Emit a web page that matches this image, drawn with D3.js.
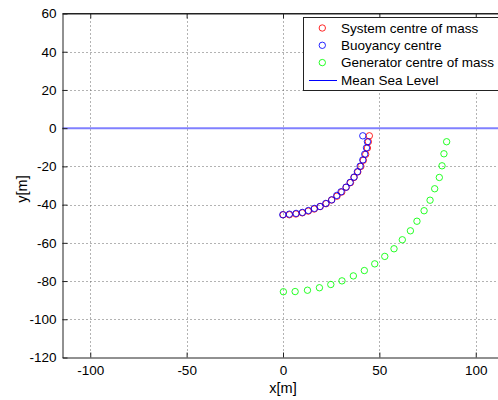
<!DOCTYPE html>
<html><head><meta charset="utf-8">
<script src="https://cdn.jsdelivr.net/npm/d3@7"></script>
<style>body{margin:0;background:#fff}svg{display:block}text{font-family:"Liberation Sans",Arial,sans-serif}</style>
</head><body>
<svg id="c" width="498" height="400"></svg>
<script>
// System centre of mass (red)
const sysX = [0.1, 3.3, 6.7, 10.0, 13.1, 16.2, 19.3, 22.4, 25.2, 28.0, 30.5, 32.8, 35.0, 36.8, 38.8, 40.4, 41.7, 42.9, 43.8, 44.3, 44.8];
const sysY = [-45.3, -45.3, -44.9, -44.3, -43.4, -42.3, -41.0, -39.5, -37.6, -35.6, -33.4, -30.9, -28.5, -25.8, -22.9, -20.0, -16.8, -13.7, -10.4, -7.1, -4.0];
// Buoyancy centre (blue)
const buoX = [-0.1, 3.3, 6.8, 10.1, 13.2, 16.3, 19.2, 22.2, 25.3, 27.9, 30.1, 32.7, 34.8, 36.9, 38.6, 40.0, 41.4, 42.4, 43.3, 43.8, 41.4];
const buoY = [-45.3, -45.0, -44.6, -44.1, -43.1, -42.0, -41.0, -39.4, -37.5, -35.2, -33.3, -30.9, -28.4, -25.6, -22.8, -19.9, -16.6, -13.6, -10.3, -7.1, -4.0];
// Generator centre of mass (green)
const genX = [0.2, 6.3, 12.7, 18.9, 24.8, 30.6, 36.5, 42.2, 47.6, 52.8, 57.6, 61.9, 66.1, 69.5, 73.2, 76.3, 78.7, 81.1, 82.5, 83.5, 84.9];
const genY = [-85.6, -85.5, -84.8, -83.5, -81.8, -79.9, -77.3, -74.5, -71.0, -67.1, -63.1, -58.4, -53.7, -48.7, -43.2, -37.7, -31.7, -25.8, -19.7, -13.4, -7.1];
const seaLevel = 0;
const xTicks = [-100, -50, 0, 50, 100];
const yTicks = [60, 40, 20, 0, -20, -40, -60, -80, -100, -120];
const legendLabels = ["System centre of mass", "Buoyancy centre", "Generator centre of mass", "Mean Sea Level"];
const colors = ["#ff0000", "#0000ff", "#00ff00", "#0000ff"];

const svg = d3.select("#c");
const L = 62.5, R = 503.5, T = 13.5, B = 357.5;
const x = d3.scaleLinear().domain([-114.4, 114.4]).range([L, R]);
const y = d3.scaleLinear().domain([-120, 60]).range([B, T]);
const fmt = d => String(d);

// grid
const g = svg.append("g");
g.selectAll(".gx").data(xTicks).enter().append("line")
  .attr("x1", d => Math.round(x(d)) + 0.5).attr("x2", d => Math.round(x(d)) + 0.5)
  .attr("y1", T).attr("y2", B).attr("stroke", "#666").attr("stroke-dasharray", "1,3");
g.selectAll(".gy").data(yTicks.filter(d => d > -120 && d < 60)).enter().append("line")
  .attr("y1", d => Math.round(y(d)) + 0.5).attr("y2", d => Math.round(y(d)) + 0.5)
  .attr("x1", L).attr("x2", R).attr("stroke", "#666").attr("stroke-dasharray", "1,3");

// sea level
svg.append("line").attr("x1", L).attr("x2", R).attr("y1", y(seaLevel)).attr("y2", y(seaLevel))
  .attr("stroke", "#8080ff").attr("stroke-width", 2);

// axes
const xAxis = d3.axisBottom(x).tickValues(xTicks).tickFormat(fmt).tickSizeInner(-5).tickSizeOuter(0).tickPadding(8);
const yAxis = d3.axisLeft(y).tickValues(yTicks).tickFormat(fmt).tickSizeInner(-5).tickSizeOuter(0).tickPadding(6);
const ax = svg.append("g").attr("transform", `translate(0,${B})`).call(xAxis);
const ay = svg.append("g").attr("transform", `translate(${L},0)`).call(yAxis);
const axTop = svg.append("g").attr("transform", `translate(0,${T})`).call(d3.axisTop(x).tickValues(xTicks).tickSizeInner(-5).tickSizeOuter(0).tickFormat(""));
[ax, ay, axTop].forEach(a => {
  a.select(".domain").attr("stroke", "#222");
  a.selectAll(".tick line").attr("stroke", "#222");
  a.selectAll("text").attr("font-size", "13.5px").attr("fill", "#000").attr("font-family", "Liberation Sans, Arial, sans-serif");
});
svg.append("line").attr("x1", L).attr("x2", R).attr("y1", T).attr("y2", T).attr("stroke", "#222");

// series
function plot(xs, ys, col) {
  svg.append("g").selectAll("circle").data(xs.map((v, i) => [v, ys[i]])).enter().append("circle")
    .attr("cx", d => x(d[0])).attr("cy", d => y(d[1])).attr("r", 3.2)
    .attr("fill", "none").attr("stroke", col).attr("stroke-width", 0.85);
}
plot(sysX, sysY, colors[0]);
plot(buoX, buoY, colors[1]);
plot(genX, genY, colors[2]);

// axis labels
svg.append("text").attr("x", x(0)).attr("y", 393).attr("text-anchor", "middle")
  .attr("font-size", "14.5px").text("x[m]");
svg.append("text").attr("transform", "translate(27,189) rotate(-90)").attr("text-anchor", "middle")
  .attr("font-size", "14.5px").text("y[m]");

// legend
const lg = svg.append("g");
lg.append("rect").attr("x", 303.5).attr("y", 17.5).attr("width", 200).attr("height", 73)
  .attr("fill", "#fff").attr("stroke", "#222");
const rowY = [28, 45.3, 62.6, 80];
legendLabels.forEach((lab, i) => {
  if (i < 3) {
    lg.append("circle").attr("cx", 322.3).attr("cy", rowY[i]).attr("r", 3.2)
      .attr("fill", "none").attr("stroke", colors[i]).attr("stroke-width", 0.85);
  } else {
    lg.append("line").attr("x1", 309).attr("x2", 337).attr("y1", Math.round(rowY[i]) + 0.5).attr("y2", Math.round(rowY[i]) + 0.5)
      .attr("stroke", colors[i]);
  }
  lg.append("text").attr("x", 341).attr("y", rowY[i]).attr("dy", "0.35em")
    .attr("font-size", "13.5px").text(lab);
});
</script>
</body></html>
